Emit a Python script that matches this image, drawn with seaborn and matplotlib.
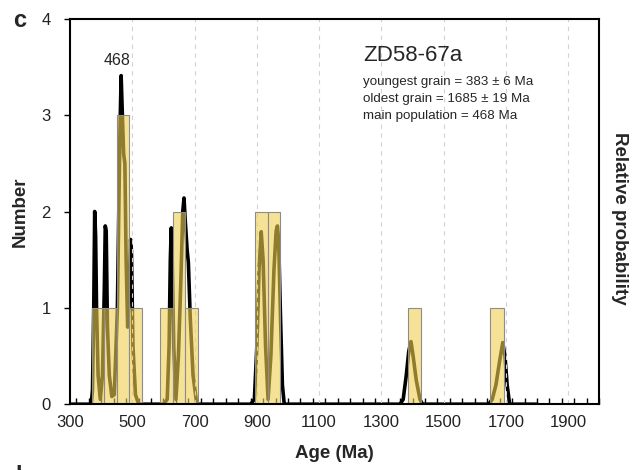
import numpy as np
import pandas as pd
import matplotlib
matplotlib.use('Agg')
import matplotlib.pyplot as plt
import seaborn as sns
from matplotlib.ticker import MultipleLocator

# ─── Data (Age in Ma)
#
bin_edges = [370, 410, 450, 490, 530, 590, 630, 670, 710, 895, 935, 975, 1387, 1428, 1650, 1693]
bin_counts = [1, 1, 3, 1, 0, 1, 2, 1, 0, 2, 2, 0, 1, 0, 1]

prob_age = [300, 368, 372, 376, 379, 382, 385, 390, 397, 404, 410, 413, 416, 420, 426, 434,
            442, 452, 460, 464, 468, 472, 476, 480, 485, 490, 494, 497, 502, 510, 520,
            600, 612, 618, 622, 625, 628, 633, 640, 648, 656, 662, 666, 670, 676, 680, 686, 695, 707,
            880, 892, 900, 907, 914, 920, 928, 936, 945, 955, 962, 966, 970, 976, 982, 988,
            1360, 1370, 1380, 1388, 1395, 1402, 1412, 1424, 1432,
            1645, 1656, 1668, 1680, 1690, 1697, 1704, 1712, 1800]
prob_val = [0, 0, 0.15, 1.0, 2.0, 1.75, 1.0, 0.3, 0.05, 0.3, 1.2, 1.85, 1.8, 0.8, 0.3, 0.08,
            0.1, 1.0, 2.8, 3.41, 3.0, 2.6, 2.5, 1.5, 0.8, 1.2, 1.71, 1.6, 0.6, 0.1, 0,
            0, 0.05, 0.6, 1.5, 1.83, 1.5, 0.6, 0.05, 0.5, 1.3, 2.0, 2.14, 1.9, 1.6, 1.47, 0.9, 0.3, 0,
            0, 0.05, 0.6, 1.4, 1.79, 1.5, 0.6, 0.05, 0.5, 1.4, 1.8, 1.85, 1.7, 0.9, 0.2, 0,
            0, 0.05, 0.3, 0.55, 0.65, 0.5, 0.25, 0.05, 0,
            0, 0.05, 0.2, 0.45, 0.64, 0.5, 0.2, 0, 0]

x_ticks = [300, 500, 700, 900, 1100, 1300, 1500, 1700, 1900]
y_ticks = [0, 1, 2, 3, 4]

sample_name = 'ZD58-67a'
info_lines = ['youngest grain = 383 \u00b1 6 Ma',
              'oldest grain = 1685 \u00b1 19 Ma',
              'main population = 468 Ma']

sns.set_theme(style='white')
plt.rcParams['font.family'] = ['Liberation Sans', 'DejaVu Sans']

fig = plt.figure(figsize=(6.43, 4.70), dpi=100)
ax = fig.add_axes([0.109, 0.140, 0.823, 0.820])
ax2 = ax.twinx()

# probability curve sits behind the semi-transparent histogram
sns.lineplot(x=prob_age, y=prob_val, ax=ax2, color='black', lw=2.6, sort=False, estimator=None)
ax2.set_ylim(0, 4)
ax2.set_yticks([])
ax2.set_ylabel('')
ax.set_zorder(ax2.get_zorder() + 1)
ax.patch.set_visible(False)

centers = [(a + b) / 2 for a, b in zip(bin_edges[:-1], bin_edges[1:])]
sns.histplot(x=centers, weights=bin_counts, bins=bin_edges, ax=ax, stat='count',
             color='#F0D050', alpha=0.6, edgecolor='#8c8c8c', linewidth=0.8)

ax.set_xlim(300, 2000)
ax.set_ylim(0, 4)
ax.set_xticks(x_ticks)
ax.xaxis.set_minor_locator(MultipleLocator(40))
ax.set_yticks(y_ticks)
ax.tick_params(axis='both', which='major', labelsize=12, colors='#222222')
ax.tick_params(axis='x', which='major', direction='inout', length=8, width=1.2, color='black')
ax.tick_params(axis='x', which='minor', direction='in', length=4, width=1.0, color='black', bottom=True)
ax.tick_params(axis='y', which='major', direction='out', length=4, width=1.0, color='black',
               left=True, pad=10)
for x in x_ticks[1:]:
    ax.axvline(x, color='#d2d2d2', lw=0.8, ls=(0, (4, 4)), zorder=0)
for s in ax.spines.values():
    s.set_color('black')
    s.set_linewidth(1.5)
for s in ax2.spines.values():
    s.set_visible(False)

ax.set_xlabel('Age (Ma)', fontsize=13.5, fontweight='bold', labelpad=11)
ax.set_ylabel('Number', fontsize=13.5, fontweight='bold', labelpad=9)
fig.text(0.964, 0.535, 'Relative probability', rotation=270, ha='center', va='center',
         fontsize=13.5, fontweight='bold')

ax.text(450, 3.57, '468', ha='center', va='center', fontsize=11.5)
ax.text(1242, 3.62, sample_name, ha='left', va='center', fontsize=16)
for i, line in enumerate(info_lines):
    ax.text(1242, 3.34 - i * 0.175, line, ha='left', va='center', fontsize=9.6)

fig.text(0.03, 0.957, 'c', fontsize=17, fontweight='bold', ha='center', va='center')
fig.text(0.012, -0.028, 'd', fontsize=17, fontweight='bold', ha='left', va='baseline')

plt.savefig('out.png', dpi=100)
plt.close(fig)
